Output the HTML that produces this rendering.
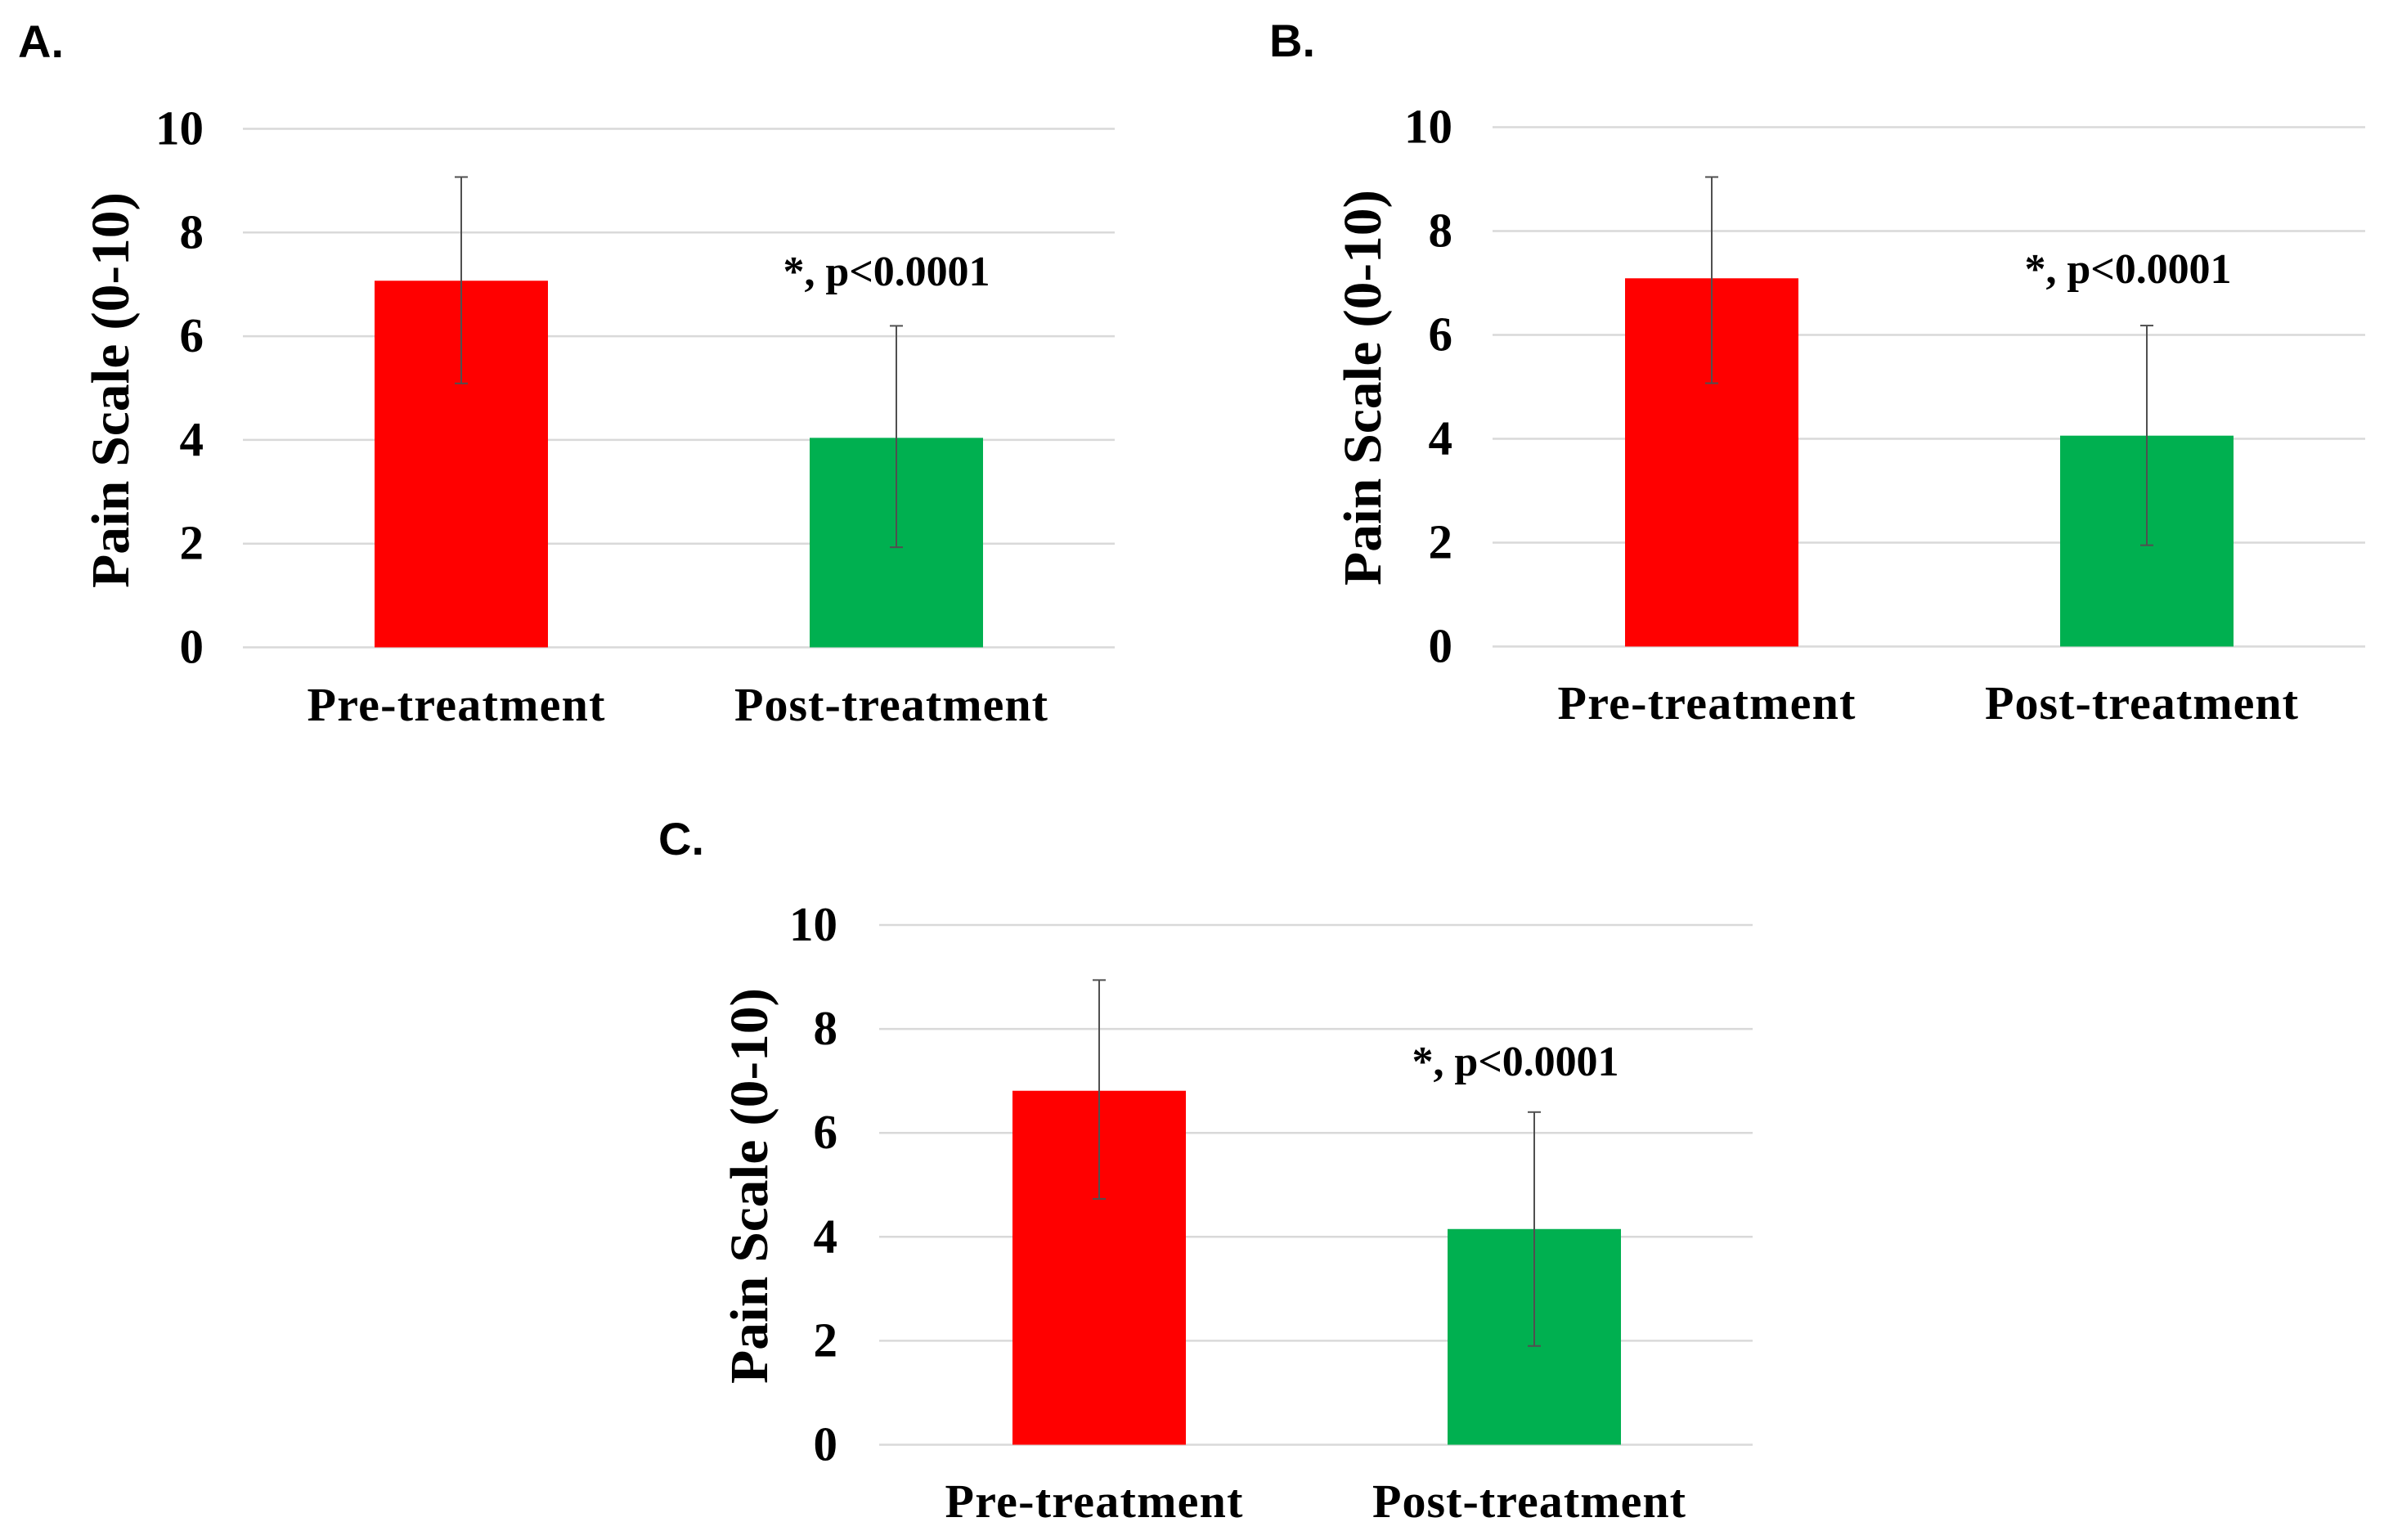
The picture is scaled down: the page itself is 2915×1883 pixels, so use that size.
<!DOCTYPE html>
<html>
<head>
<meta charset="utf-8">
<title>Pain Scale Before and After Treatment</title>
<style>
html,body{margin:0;padding:0;background:#fff;}
svg{display:block;}
text{fill:#000;}
.serif{font-family:"Liberation Serif",serif;font-weight:bold;}
.sans{font-family:"Liberation Sans",sans-serif;font-weight:bold;}
</style>
</head>
<body>
<svg id="figure" width="2915" height="1883" viewBox="0 0 2915 1883" xmlns="http://www.w3.org/2000/svg"></svg>
<script>
// Chart data
const categories = ["Pre-treatment", "Post-treatment"];
const yTicks = [0, 2, 4, 6, 8, 10];
const panelNames = ["A.", "B.", "C."];
const annotationLabel = "*, p<0.0001";
const yAxisTitle = "Pain Scale (0-10)";
const meansA = [7.07, 4.04];
const meansB = [7.09, 4.06];
const meansC = [6.81, 4.15];
const upperA = [9.07, 6.2];
const upperB = [9.04, 6.18];
const upperC = [8.94, 6.4];
const lowerA = [5.09, 1.93];
const lowerB = [5.07, 1.95];
const lowerC = [4.73, 1.9];
const barColors = ["#ff0000", "#00b050"];

// Panel geometry
const layoutA = {key:"a", left:297, right:1363, y0:791.5, y10:157.5, first:564, step:532, tickRight:249, titleX:157, titleY:477, labelY:881, noteX:1084, noteY:349, letterX:22, letterY:70};
const layoutB = {key:"b", left:1825, right:2892, y0:790.5, y10:155.5, first:2093, step:532, tickRight:1776, titleX:1688, titleY:474, labelY:879, noteX:2602, noteY:346, letterX:1552, letterY:69};
const layoutC = {key:"c", left:1075, right:2143, y0:1766.5, y10:1131, first:1344, step:532, tickRight:1024, titleX:938, titleY:1450, labelY:1855, noteX:1853, noteY:1315, letterX:805, letterY:1045};

const svg = document.getElementById("figure");
const NS = "http://www.w3.org/2000/svg";

function add(parent, tag, attrs, content) {
  const el = document.createElementNS(NS, tag);
  for (const k in attrs) el.setAttribute(k, attrs[k]);
  if (content !== undefined) el.textContent = content;
  parent.appendChild(el);
  return el;
}

function drawPanel(layout, letter, means, upper, lower) {
  const yScale = v => layout.y0 - (v / 10) * (layout.y0 - layout.y10);
  const xScale = i => layout.first + i * layout.step;
  const barWidth = 212;
  const capHalf = 8;
  const labelWidths = [364, 383];

  const g = add(svg, "g", {});
  
  

  const letterEl = add(g, "text", {x: layout.letterX, y: layout.letterY, "class": "sans", "font-size": 56}, letter);
  
  

  yTicks.forEach(t => {
    const line = add(g, "line", {x1: layout.left, x2: layout.right, y1: yScale(t), y2: yScale(t), stroke: "#d9d9d9", "stroke-width": 2.5});
    
    

    const label = add(g, "text", {x: layout.tickRight, y: yScale(t) + 19, "class": "serif", "font-size": 59, "text-anchor": "end"}, String(t));
    
    
  });

  const title = add(g, "text", {
    x: layout.titleX, y: layout.titleY, "class": "serif", "font-size": 66, "text-anchor": "middle",
    textLength: 484, lengthAdjust: "spacingAndGlyphs",
    transform: "rotate(-90 " + layout.titleX + " " + layout.titleY + ")"
  }, yAxisTitle);
  
  

  categories.forEach((c, i) => {
    const cx = xScale(i);
    const bar = add(g, "rect", {x: cx - barWidth / 2, y: yScale(means[i]), width: barWidth, height: yScale(0) - yScale(means[i]), fill: barColors[i]});
    
    

    const err = add(g, "g", {stroke: "#505050", "stroke-width": 2, fill: "none"});
    
    
    add(err, "line", {x1: cx, x2: cx, y1: yScale(upper[i]), y2: yScale(lower[i])});
    add(err, "line", {x1: cx - capHalf, x2: cx + capHalf, y1: yScale(upper[i]), y2: yScale(upper[i])});
    add(err, "line", {x1: cx - capHalf, x2: cx + capHalf, y1: yScale(lower[i]), y2: yScale(lower[i])});

    const cat = add(g, "text", {
      x: cx - 6.5, y: layout.labelY, "class": "serif", "font-size": 58, "text-anchor": "middle",
      textLength: labelWidths[i], lengthAdjust: "spacing"
    }, c);
    
    
  });

  const note = add(g, "text", {
    x: layout.noteX, y: layout.noteY, "class": "serif", "font-size": 52, "text-anchor": "middle",
    textLength: 253, lengthAdjust: "spacing"
  }, annotationLabel);
  
  
}

drawPanel(layoutA, panelNames[0], meansA, upperA, lowerA);
drawPanel(layoutB, panelNames[1], meansB, upperB, lowerB);
drawPanel(layoutC, panelNames[2], meansC, upperC, lowerC);
</script>
</body>
</html>
